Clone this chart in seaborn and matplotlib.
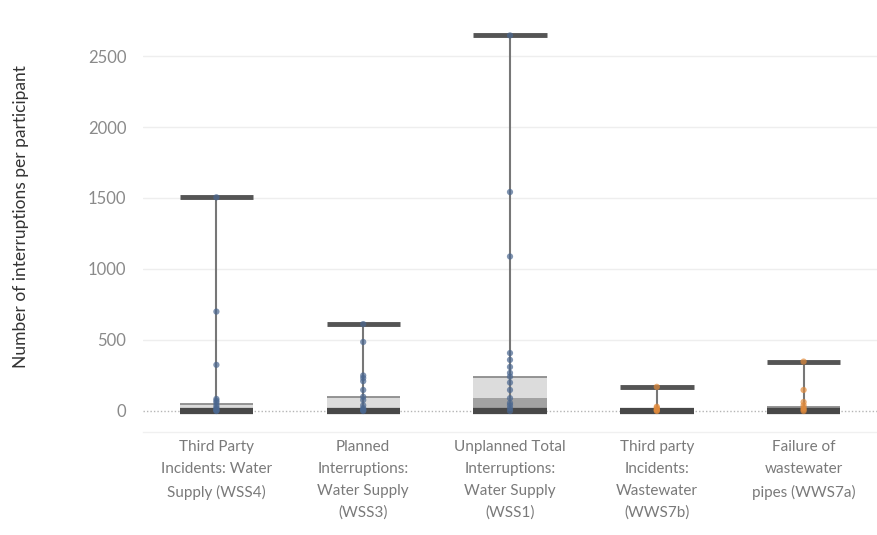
import numpy as np
import pandas as pd
import matplotlib
matplotlib.use("Agg")
import matplotlib.pyplot as plt
import seaborn as sns

categories = [
    "Third Party\nIncidents: Water\nSupply (WSS4)",
    "Planned\nInterruptions:\nWater Supply\n(WSS3)",
    "Unplanned Total\nInterruptions:\nWater Supply\n(WSS1)",
    "Third party\nIncidents:\nWastewater\n(WWS7b)",
    "Failure of\nwastewater\npipes (WWS7a)",
]
whisker_min = [0, 0, 0, 0, 0]
q1 = [0, 0, 5, 0, 0]
median = [12, 22, 92, 5, 8]
q3 = [52, 100, 242, 12, 28]
whisker_max = [1505, 612, 2645, 170, 348]

points_wss4 = [0, 3, 8, 15, 25, 40, 60, 72, 85, 325, 700, 1505]
points_wss3 = [0, 5, 10, 20, 40, 77, 100, 148, 210, 232, 250, 486, 612]
points_wss1 = [0, 20, 40, 56, 90, 148, 200, 242, 268, 310, 360, 408, 1088, 1542, 2645]
points_wws7b = [0, 5, 10, 20, 30, 170]
points_wws7a = [0, 10, 21, 40, 63, 148, 348]
point_colors = ["#4a6790", "#4a6790", "#4a6790", "#e08a3c", "#e08a3c"]

yticks = [0, 500, 1000, 1500, 2000, 2500]
ylabel = "Number of interruptions per participant"

all_points = [points_wss4, points_wss3, points_wss1, points_wws7b, points_wws7a]
rows = []
for cat, pts in zip(categories, all_points):
    for v in pts:
        rows.append({"category": cat, "value": v})
df = pd.DataFrame(rows)

sns.set_theme(style="white")
plt.rcParams["font.family"] = ["Lato", "DejaVu Sans"]

fig = plt.figure(figsize=(8.77, 5.35), dpi=100)
ax = fig.add_axes([143 / 877, (535 - 432) / 535, (877 - 143) / 877, 422 / 535])

pos = np.arange(len(categories))
bw = 0.5

# box: lower half (Q1-median) darker, upper half (median-Q3) lighter
lower_h = np.array(median) - np.array(q1)
upper_h = np.array(q3) - np.array(median)
ax.bar(pos, upper_h, bottom=median, width=bw, color="#dcdcdc", edgecolor="none", zorder=2)
ax.bar(pos, lower_h, bottom=q1, width=bw, color="#a2a2a2", edgecolor="none", zorder=2)
ax.hlines(q3, pos - bw / 2, pos + bw / 2, color="#8c8c8c", lw=1.3, zorder=3)

# whiskers and caps
ax.vlines(pos, whisker_min, whisker_max, color="#777777", lw=1.5, zorder=3)
ax.hlines(whisker_max, pos - bw / 2, pos + bw / 2, color="#555555", lw=3.5, zorder=4)
ax.hlines(whisker_min, pos - bw / 2, pos + bw / 2, color="#484848", lw=4.5, zorder=4)

sns.stripplot(data=df, x="category", y="value", hue="category", order=categories,
              palette=point_colors, jitter=False, size=4.5, alpha=0.7,
              linewidth=0, legend=False, ax=ax, zorder=5)

ax.set_xlim(-0.5, len(categories) - 0.5)
ax.set_ylim(-148, 2824)
ax.set_yticks(yticks)
ax.set_yticklabels([str(t) for t in yticks], color="#8a8a8a", fontsize=12)
ax.set_xticks(pos)
ax.set_xticklabels(categories, color="#7a7a7a", fontsize=11, linespacing=1.7)
ax.set_xlabel("")
ax.set_ylabel(ylabel, color="#333333", fontsize=12.5)
ax.yaxis.set_label_coords(-143 / 734 + 29 / 734, 0.51)

for t in yticks[1:]:
    ax.axhline(t, color="#eeeeee", lw=1, zorder=0)
ax.axhline(0, color="#b5b5b5", lw=1, ls=(0, (1, 1.5)), zorder=1)

ax.tick_params(axis="y", length=8, color="#e0e0e0", pad=4, width=1)
ax.tick_params(axis="x", length=0, pad=6)
for s in ["top", "right", "left"]:
    ax.spines[s].set_visible(False)
ax.spines["bottom"].set_color("#f0f0f0")
ax.spines["bottom"].set_linewidth(1)

fig.savefig("out.png", dpi=100)
